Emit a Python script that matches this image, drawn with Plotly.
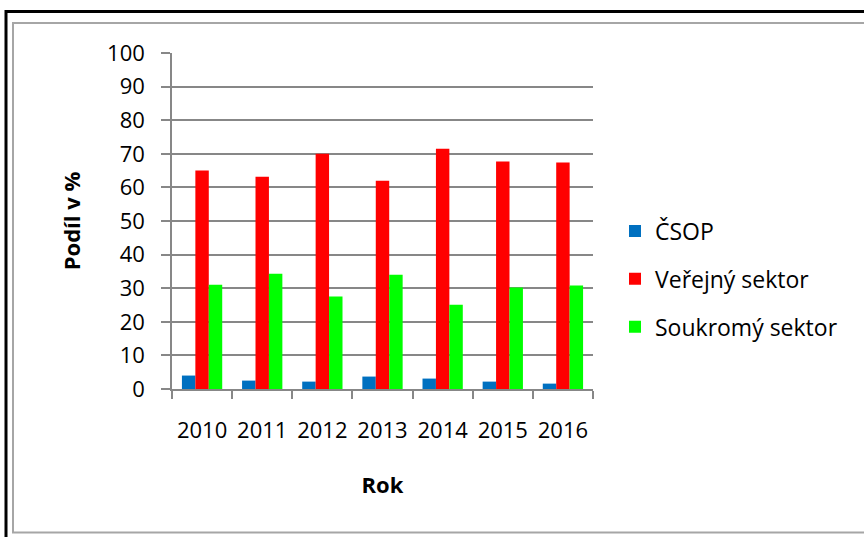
import plotly.graph_objects as go

years = ["2010", "2011", "2012", "2013", "2014", "2015", "2016"]
csop = [4.0, 2.5, 2.2, 3.7, 3.1, 2.2, 1.6]
verejny = [65.0, 63.2, 70.0, 62.0, 71.5, 67.7, 67.4]
soukromy = [31.0, 34.3, 27.5, 34.0, 25.1, 30.2, 30.8]

series_names = ["ČSOP", "Veřejný sektor", "Soukromý sektor"]
series_colors = ["#0070C0", "#FF0000", "#00FF00"]

W, H = 864, 537
PL, PR, PT, PB = 172, 593, 53, 389  # plot area in page px
L, T = PL, PT
PW, PH = PR - PL, PB - PT
R = W - L - PW
B = H - T - PH

def px_x(x):
    return (x - PL) / PW

def px_y(y):
    return (PB - y) / PH

FONT = "Open Sans"
fig = go.Figure()
for name, vals, col in zip(series_names, [csop, verejny, soukromy], series_colors):
    fig.add_trace(go.Bar(x=years, y=vals, name=name, marker_color=col,
                         marker_line_width=0, legendgroup=name))

grid = "#878787"
fig.update_layout(
    width=W, height=H,
    margin=dict(l=L, r=R, t=T, b=B, autoexpand=False),
    paper_bgcolor="white", plot_bgcolor="white",
    bargap=0.33, bargroupgap=0,
    font=dict(family=FONT, size=22, color="black"),
    legend=dict(x=px_x(615), xanchor="left", y=px_y(279), yanchor="middle",
                font=dict(size=23), tracegroupgap=15, itemwidth=30,
                bgcolor="rgba(0,0,0,0)"),
    xaxis=dict(type="category", tickson="boundaries", ticks="outside", ticklen=8,
               tickcolor=grid, tickwidth=1.5, showline=True, linecolor=grid, linewidth=1.5,
               showgrid=False, ticklabelstandoff=21, tickangle=0,
               title=dict(text="<b>Rok</b>", font=dict(size=22), standoff=34)),
    yaxis=dict(range=[0, 100], dtick=10, ticks="outside", ticklen=9, tickcolor=grid,
               tickwidth=1.5, showline=True, linecolor=grid, linewidth=1.5,
               showgrid=True, gridcolor=grid, gridwidth=1.5, zeroline=False,
               ticklabelstandoff=12,
               title=dict(text="<b>Podíl v %</b>", font=dict(size=22), standoff=20)),
    shapes=[
        dict(type="rect", xref="paper", yref="paper",
             x0=px_x(6), x1=px_x(880), y0=px_y(11.5), y1=px_y(560),
             line=dict(color="black", width=3), layer="below"),
        dict(type="rect", xref="paper", yref="paper",
             x0=px_x(13), x1=px_x(880), y0=px_y(23), y1=px_y(532.5),
             line=dict(color="#a6a6a6", width=2), layer="below"),
    ],
)
fig.write_html("out.html", post_script="document.body.style.margin='0';",
               config={"displayModeBar": False})
